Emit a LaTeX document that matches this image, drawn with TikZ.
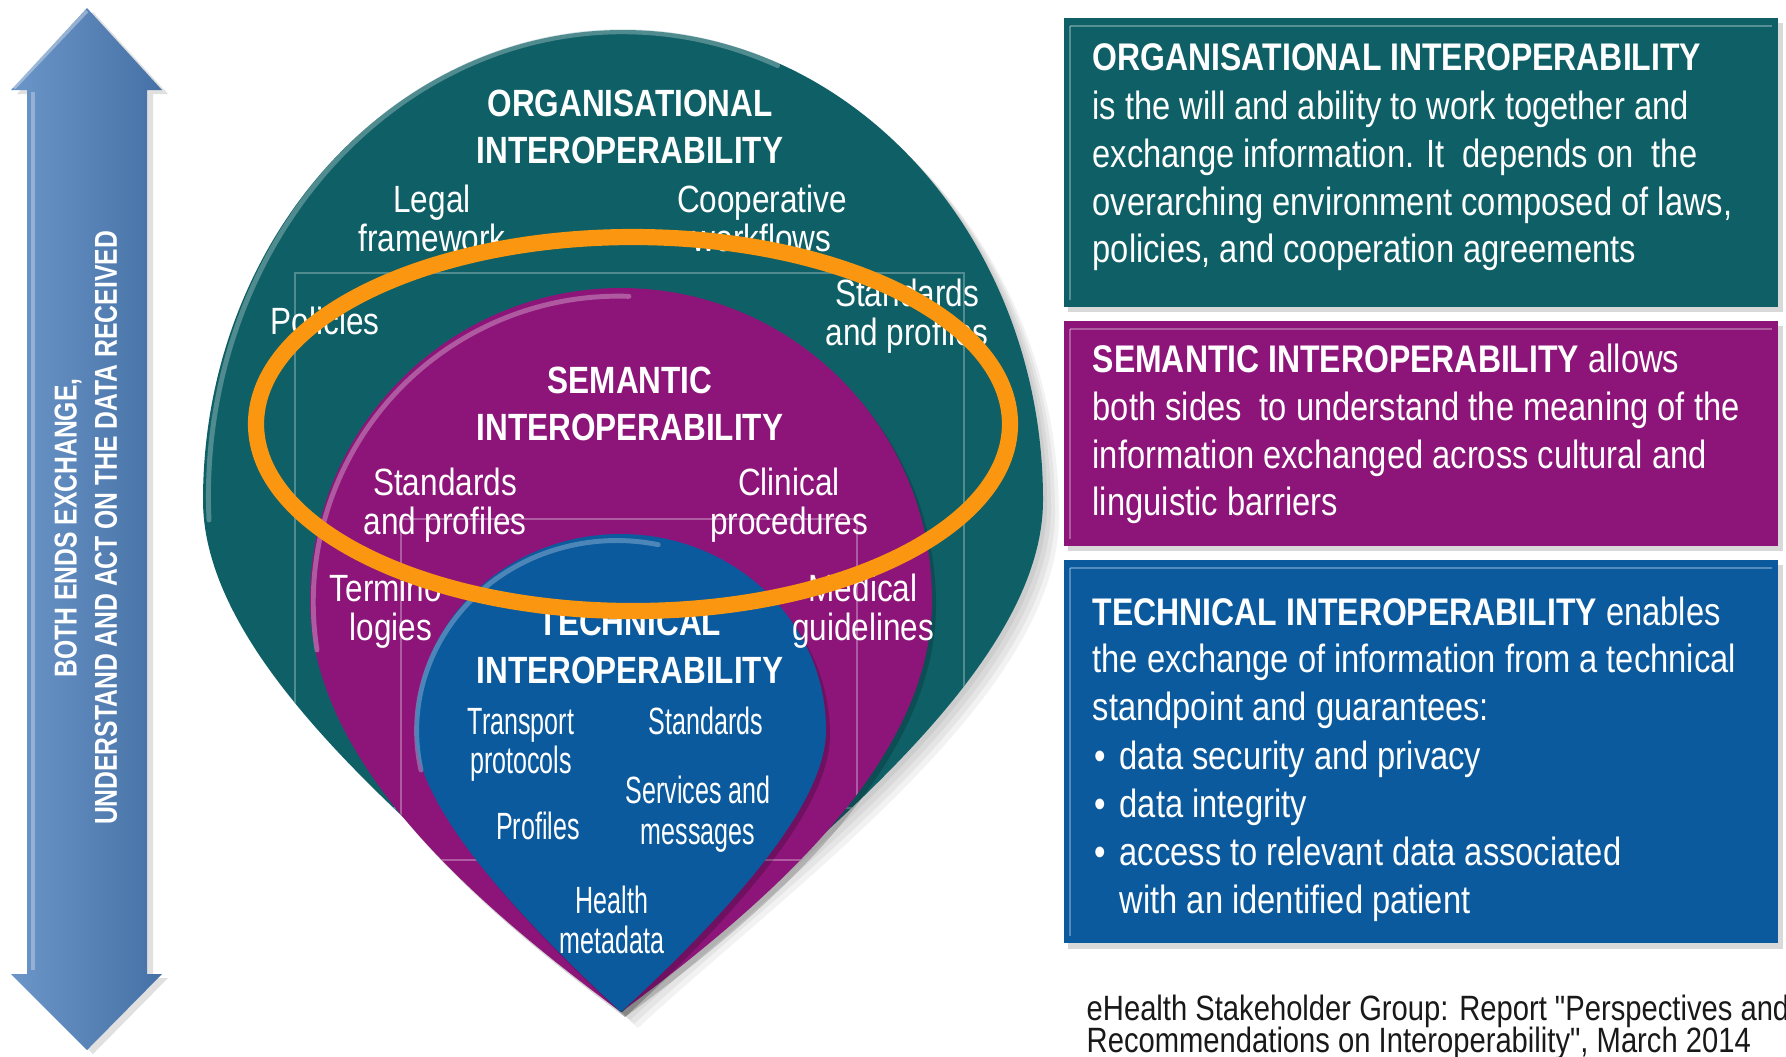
\documentclass[tikz,border=0pt]{standalone}
\usepackage{fontspec}
\setmainfont{Liberation Sans}[FakeStretch=0.83]
\newfontfamily\techfont{Liberation Sans}[FakeStretch=0.66]
\newfontfamily\arrowfont{Liberation Sans}[FakeStretch=0.78]
\newfontfamily\footfont{Liberation Sans}[FakeStretch=0.83]
\definecolor{cteal}{RGB}{15,96,102}
\definecolor{cmag}{RGB}{141,21,121}
\definecolor{cblue}{RGB}{11,90,158}
\definecolor{carrowL}{RGB}{108,150,200}
\definecolor{carrowM}{RGB}{86,132,186}
\definecolor{carrowR}{RGB}{70,113,166}
\definecolor{corange}{RGB}{250,150,15}
\newcommand*{\tealshape}{(203,500) arc[start angle=180,end angle=360,x radius=420,y radius=470] .. controls (1043,680) and (775,870) .. (622,1012) .. controls (470,870) and (203,680) .. (203,500) -- cycle}
\newcommand*{\magshape}{(310,600) arc[start angle=180,end angle=360,x radius=311,y radius=312] .. controls (932,760) and (772,900) .. (621,1012) .. controls (470,900) and (310,760) .. (310,600) -- cycle}
\newcommand*{\blueshape}{(415,730) arc[start angle=180,end angle=360,x radius=205.5,y radius=196] .. controls (826,800) and (742,900) .. (621,1012) .. controls (500,900) and (415,800) .. (415,730) -- cycle}
\newcommand*{\boxbold}[1]{\textbf{\fontsize{10.95}{13}\selectfont #1}}
\tikzset{
  lbl/.style={text=white, anchor=base, inner sep=0pt, font=\fontsize{10.8}{12}\selectfont},
  ttl/.style={text=white, anchor=base, inner sep=0pt, font=\fontsize{10.8}{12}\selectfont\bfseries},
  tlbl/.style={text=white, anchor=base, inner sep=0pt, font=\techfont\fontsize{10.8}{12}\selectfont},
  btxt/.style={text=white, anchor=base west, inner sep=0pt, font=\fontsize{11.2}{13}\selectfont},
  foot/.style={text=black!90, anchor=base west, inner sep=0pt, font=\footfont\fontsize{10}{12}\selectfont},
  arrtxt/.style={text=white, rotate=90, inner sep=0pt, font=\arrowfont\bfseries\fontsize{9}{11}\selectfont},
  gridline/.style={line width=0.5pt, opacity=0.6},
  boxhl/.style={white, opacity=0.3, line width=0.8pt},
  rim/.style={line width=1.4pt, opacity=0.45, line cap=round},
}
\begin{document}
\begin{tikzpicture}[x=0.01cm,y=-0.01cm]
\useasboundingbox (0,0) rectangle (1786,1056);
\fill[white] (0,0) rectangle (1786,1056);

% ---------- double arrow ----------
\fill[black, opacity=0.12] (93,12) -- (168,94) -- (153,94) -- (153,978) -- (168,978) -- (93,1054) -- (17,978) -- (31,978) -- (31,94) -- (17,94) -- cycle;
\shade[left color=carrowL, middle color=carrowM, right color=carrowR]
  (87,8) -- (162,90) -- (147,90) -- (147,974) -- (162,974) -- (87,1050) -- (11,974) -- (27,974) -- (27,90) -- (11,90) -- cycle;
\draw[white, opacity=0.3, line width=1.2pt] (33,92) -- (33,970);
\draw[white, opacity=0.35, line width=1pt] (14,88) -- (87,11);
\node[arrtxt] (ar1) at (68,528) {BOTH ENDS EXCHANGE,};
\node[arrtxt] (ar2) at (106,528) {UNDERSTAND AND ACT ON THE DATA RECEIVED};

% ---------- teardrop shadow ----------
\foreach \s in {4,8,12,16}{\fill[black, opacity=0.05, shift={(\s,\s)}] \tealshape;}

% ---------- organisational ----------
\fill[cteal] \tealshape;
\begin{scope}
  \clip \tealshape;
  \draw[gridline, cteal!55!white] (295,273) rectangle (964,808);
\end{scope}
\draw[rim, cteal!40!white] (209,520) arc[start angle=177,end angle=292,x radius=414,y radius=464];

% ---------- semantic ----------
\fill[black, opacity=0.18, shift={(4,5)}] \magshape;
\fill[cmag] \magshape;
\begin{scope}
  \clip \magshape;
  \draw[gridline, cmag!50!white] (401,519) rectangle (857,860);
\end{scope}
\draw[rim, cmag!35!white] (317,650) arc[start angle=171,end angle=272,x radius=305,y radius=306];

% ---------- technical ----------
\fill[black, opacity=0.2, shift={(4,5)}] \blueshape;
\fill[cblue] \blueshape;
\draw[rim, cblue!40!white] (421,770) arc[start angle=168,end angle=282,x radius=200,y radius=190];

% ---------- teardrop labels ----------
\node[ttl] (org1) at (630,116) {ORGANISATIONAL};
\node[ttl] (org2) at (630,163) {INTEROPERABILITY};
\node[lbl] (leg1) at (432,212) {Legal};
\node[lbl] (leg2) at (432,251) {framework};
\node[lbl] (coo1) at (762,212) {Cooperative};
\node[lbl] (coo2) at (762,251) {workflows};
\node[lbl] (pol) at (325,334) {Policies};
\node[lbl] (ost1) at (907,306) {Standards};
\node[lbl] (ost2) at (907,345) {and profiles};

\node[ttl] (sem1) at (630,393) {SEMANTIC};
\node[ttl] (sem2) at (630,440) {INTEROPERABILITY};
\node[lbl] (sst1) at (445,495) {Standards};
\node[lbl] (sst2) at (445,534) {and profiles};
\node[lbl] (cli1) at (789,495) {Clinical};
\node[lbl] (cli2) at (789,534) {procedures};
\node[lbl] (ter1) at (391,601) {Termino-};
\node[lbl] (ter2) at (391,640) {logies};
\node[lbl] (med1) at (863,601) {Medical};
\node[lbl] (med2) at (863,640) {guidelines};

\node[ttl] (tec1) at (630,635) {TECHNICAL};
\node[ttl] (tec2) at (630,683) {INTEROPERABILITY};
\node[tlbl] (tra1) at (521,734) {Transport};
\node[tlbl] (tra2) at (521,773) {protocols};
\node[tlbl] (tst) at (706,734) {Standards};
\node[tlbl] (ser1) at (698,803) {Services and};
\node[tlbl] (ser2) at (698,844) {messages};
\node[tlbl] (pro) at (538,839) {Profiles};
\node[tlbl] (hea1) at (612,913) {Health};
\node[tlbl] (hea2) at (612,953) {metadata};

% ---------- orange ellipse ----------
\draw[corange, line width=4.6pt] (633,424) ellipse [x radius=377, y radius=187];

% ---------- right boxes ----------
\fill[black, opacity=0.15] (1068,23) rectangle (1783,312);
\fill[cteal] (1064,18) rectangle (1778,307);
\draw[boxhl] (1070,26) -- (1772,26);
\draw[boxhl] (1070,26) -- (1070,300);

\fill[black, opacity=0.15] (1068,326) rectangle (1783,551);
\fill[cmag] (1064,321) rectangle (1778,546);
\draw[boxhl] (1070,329) -- (1772,329);
\draw[boxhl] (1070,329) -- (1070,539);

\fill[black, opacity=0.15] (1068,565) rectangle (1783,949);
\fill[cblue] (1064,560) rectangle (1778,943);
\draw[boxhl] (1070,568) -- (1772,568);
\draw[boxhl] (1070,568) -- (1070,936);

\node[btxt] (b1a) at (1092,70) {\boxbold{ORGANISATIONAL INTEROPERABILITY}};
\node[btxt] (b1b) at (1092,119) {is the will and ability to work together and};
\node[btxt] (b1c) at (1092,167) {exchange information. It\ \ depends on\ \ the};
\node[btxt] (b1d) at (1092,215) {overarching environment composed of laws,};
\node[btxt] (b1e) at (1092,262) {policies, and cooperation agreements};

\node[btxt] (b2a) at (1092,372) {\boxbold{SEMANTIC INTEROPERABILITY} allows};
\node[btxt] (b2b) at (1092,420) {both sides\ \ to understand the meaning of the};
\node[btxt] (b2c) at (1092,468) {information exchanged across cultural and};
\node[btxt] (b2d) at (1092,515) {linguistic barriers};

\node[btxt] (b3a) at (1092,625) {\boxbold{TECHNICAL INTEROPERABILITY} enables};
\node[btxt] (b3b) at (1092,672) {the exchange of information from a technical};
\node[btxt] (b3c) at (1092,720) {standpoint and guarantees:};
\node[btxt] (bu1) at (1094,769) {•};
\node[btxt] (b3d) at (1119,769) {data security and privacy};
\node[btxt] (bu2) at (1094,817) {•};
\node[btxt] (b3e) at (1119,817) {data integrity};
\node[btxt] (bu3) at (1094,865) {•};
\node[btxt] (b3f) at (1119,865) {access to relevant data associated};
\node[btxt] (b3g) at (1119,913) {with an identified patient};

% ---------- footer ----------
\node[foot] (f1) at (1086,1020) {eHealth Stakeholder Group: Report "Perspectives and};
\node[foot] (f2) at (1086,1052) {Recommendations on Interoperability", March 2014};
\end{tikzpicture}
\end{document}
